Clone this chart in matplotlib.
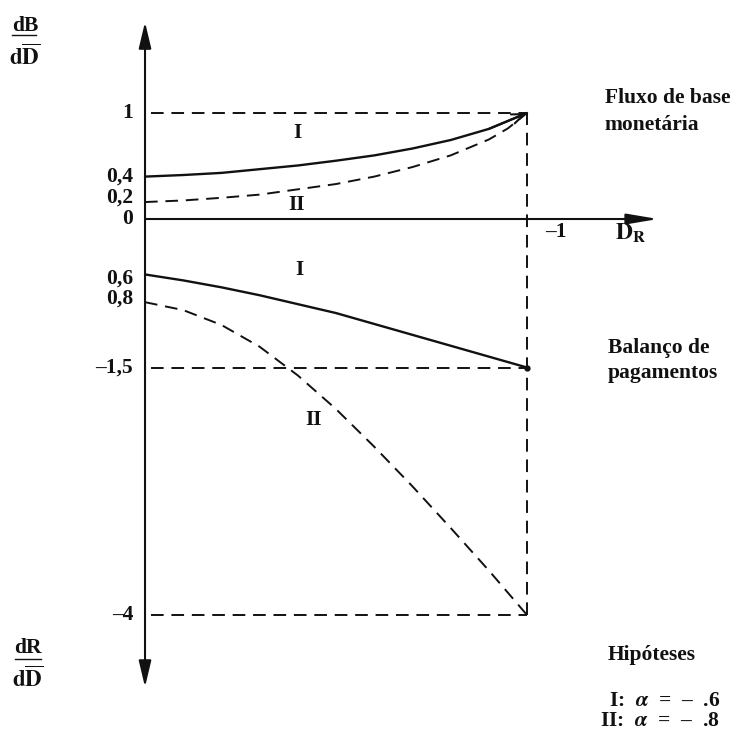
import numpy as np
import matplotlib
matplotlib.use('Agg')
import matplotlib.pyplot as plt

plt.rcParams['font.family'] = ['Liberation Serif', 'DejaVu Serif']
plt.rcParams['font.weight'] = 'bold'
plt.rcParams['mathtext.fontset'] = 'stix'

# ---- data ----
dr_grid = [0, -0.1, -0.2, -0.3, -0.4, -0.5, -0.6, -0.7, -0.8, -0.9, -1.0]

flux_I = [0.40, 0.415, 0.435, 0.47, 0.505, 0.55, 0.60, 0.665, 0.745, 0.85, 1.0]

dr_upper_II = [0, -0.1, -0.2, -0.3, -0.4, -0.5, -0.6, -0.7, -0.8, -0.9, -0.95, -1.0]
flux_II = [0.16, 0.175, 0.20, 0.23, 0.28, 0.33, 0.40, 0.49, 0.60, 0.75, 0.855, 1.0]

bal_I = [-0.56, -0.62, -0.69, -0.77, -0.86, -0.95, -1.06, -1.17, -1.28, -1.39, -1.5]

bal_II = [-0.84, -0.92, -1.07, -1.29, -1.58, -1.92, -2.30, -2.70, -3.12, -3.55, -4.0]

y_ticks = [1, 0.4, 0.2, 0, -0.6, -0.8, -1.5, -4]
y_tick_labels = ['1', '0,4', '0,2', '0', '0,6', '0,8', '–1,5', '–4']
ref_levels = [1, -1.5, -4]
dr_end = -1
x_tick_label = '–1'

# ---- figure ----
fig = plt.figure(figsize=(7.36, 7.38), dpi=100)
ax = fig.add_axes([0, 0, 1, 1])

up = 106 / 99.0
def fwd(y):
    y = np.asarray(y, dtype=float)
    return np.where(y >= 0, y * up, y)
def inv(t):
    t = np.asarray(t, dtype=float)
    return np.where(t >= 0, t / up, t)

ax.set_yscale('function', functions=(fwd, inv))
ax.set_xlim(0.3796, -1.547)
ax.set_ylim(-5.242, 2.066)
ax.axis('off')

black = '#111111'
dash = (0, (6.5, 4.0))

# axes with arrows
ax.annotate('', xy=(0, 1.858), xytext=(0, -4.727),
            arrowprops=dict(arrowstyle='<|-|>,head_length=1.6,head_width=0.38',
                            lw=1.5, color=black, shrinkA=0, shrinkB=0,
                            mutation_scale=10))
ax.annotate('', xy=(-1.343, 0), xytext=(0, 0),
            arrowprops=dict(arrowstyle='-|>,head_length=1.9,head_width=0.32',
                            lw=1.5, color=black, shrinkA=0, shrinkB=0,
                            mutation_scale=10))

# reference dashed lines
for lev in ref_levels:
    ax.plot([-0.015, dr_end], [lev, lev], color=black, lw=1.4, ls=dash)
ax.plot([dr_end, dr_end], [min(ref_levels), max(ref_levels)], color=black, lw=1.4, ls=dash)

# curves
ax.plot(dr_grid, flux_I, color=black, lw=1.7, solid_capstyle='round', solid_joinstyle='round')
ax.annotate('', xy=(dr_grid[-1], flux_I[-1]), xytext=(dr_grid[-2], flux_I[-2]),
            arrowprops=dict(arrowstyle='->,head_length=0.9,head_width=0.35',
                            lw=1.5, color=black, shrinkA=0, shrinkB=0,
                            mutation_scale=10))
ax.plot(dr_upper_II, flux_II, color=black, lw=1.4, ls=dash)
ax.plot(dr_grid, bal_I, color=black, lw=1.7, solid_capstyle='round', solid_joinstyle='round')
ax.plot(dr_grid[-1], bal_I[-1], 'o', color=black, ms=3.5)
ax.plot(dr_grid, bal_II, color=black, lw=1.4, ls=dash)

fs = 15.5
# y tick labels
for v, lab in zip(y_ticks, y_tick_labels):
    ax.text(0.031, v, lab, ha='right', va='center', fontsize=fs, fontweight='bold', color=black)

# x labels
ax.text(-1.076, -0.13, x_tick_label, ha='center', va='center', fontsize=fs, fontweight='bold', color=black)
ax.text(-1.23, -0.14, r'$\mathbf{D_R}$', ha='left', va='center', fontsize=fs + 1.5, color=black)

# curve labels
ax.text(-0.40, 0.81, 'I', ha='center', va='center', fontsize=fs, fontweight='bold', color=black)
ax.text(-0.397, 0.13, 'II', ha='center', va='center', fontsize=fs, fontweight='bold', color=black)
ax.text(-0.403, -0.515, 'I', ha='center', va='center', fontsize=fs, fontweight='bold', color=black)
ax.text(-0.44, -2.03, 'II', ha='center', va='center', fontsize=fs, fontweight='bold', color=black)

# axis titles (numerator, fraction bar, denominator)
ax.text(0.314, 1.82, 'dB', ha='center', va='center', fontsize=fs, fontweight='bold', color=black)
ax.plot([0.348, 0.285], [1.735, 1.735], color=black, lw=1.0)
ax.text(0.314, 1.528, r'$\mathbf{d\overline{D}}$', ha='center', va='center', fontsize=fs + 1, color=black)

ax.text(0.306, -4.333, 'dR', ha='center', va='center', fontsize=fs, fontweight='bold', color=black)
ax.plot([0.340, 0.272], [-4.444, -4.444], color=black, lw=1.0)
ax.text(0.306, -4.646, r'$\mathbf{d\overline{D}}$', ha='center', va='center', fontsize=fs + 1, color=black)

# right side annotations
ax.text(-1.204, 1.14, 'Fluxo de base', ha='left', va='center', fontsize=fs, fontweight='bold', color=black)
ax.text(-1.204, 0.887, 'monetária', ha='left', va='center', fontsize=fs, fontweight='bold', color=black)
ax.text(-1.212, -1.30, 'Balanço de', ha='left', va='center', fontsize=fs, fontweight='bold', color=black)
ax.text(-1.212, -1.56, 'pagamentos', ha='left', va='center', fontsize=fs, fontweight='bold', color=black)
ax.text(-1.212, -4.40, 'Hipóteses', ha='left', va='center', fontsize=fs, fontweight='bold', color=black)
ax.text(-1.505, -4.97, 'I:  $\\alpha$  =  –  .6\nII:  $\\alpha$  =  –  .8', ha='right', va='center',
        multialignment='right', linespacing=0.95,
        fontsize=fs, fontweight='bold', color=black)

fig.savefig('out.png', dpi=100, facecolor='white')
